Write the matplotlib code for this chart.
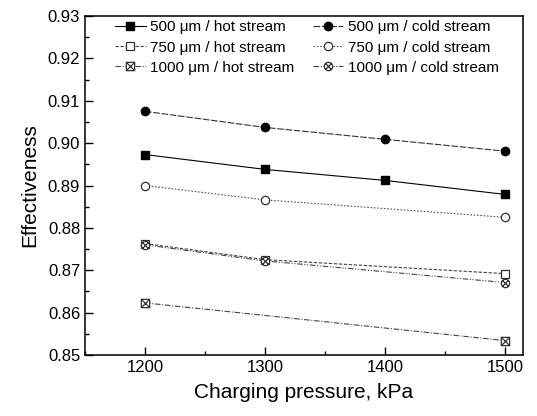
import matplotlib
matplotlib.use("Agg")
import matplotlib.pyplot as plt
from matplotlib.path import Path
from matplotlib.ticker import MultipleLocator, FormatStrFormatter

plt.rcParams['font.family'] = ['Liberation Sans', 'DejaVu Sans']

pressure_full = [1200, 1300, 1400, 1500]
pressure_part = [1200, 1300, 1500]
pressure_ends = [1200, 1500]

hot_500 = [0.8973, 0.8938, 0.8912, 0.8879]
cold_500 = [0.9075, 0.9037, 0.9009, 0.8981]
hot_750 = [0.8763, 0.8725, 0.8692]
cold_750 = [0.8900, 0.8866, 0.8825]
hot_1000 = [0.8623, 0.8534]
cold_1000 = [0.8760, 0.8722, 0.8671]

labels = ["500 \u03bcm / hot stream", "500 \u03bcm / cold stream",
          "750 \u03bcm / hot stream", "750 \u03bcm / cold stream",
          "1000 \u03bcm / hot stream", "1000 \u03bcm / cold stream"]

def boxx_marker():
    sq = Path([(-1, -1), (1, -1), (1, 1), (-1, 1), (-1, -1)],
              [Path.MOVETO, Path.LINETO, Path.LINETO, Path.LINETO, Path.CLOSEPOLY])
    d1 = Path([(-1, -1), (1, 1)], [Path.MOVETO, Path.LINETO])
    d2 = Path([(-1, 1), (1, -1)], [Path.MOVETO, Path.LINETO])
    return Path.make_compound_path(sq, d1, d2)

def circx_marker():
    c = Path.unit_circle()
    r = 0.7071
    d1 = Path([(-r, -r), (r, r)], [Path.MOVETO, Path.LINETO])
    d2 = Path([(-r, r), (r, -r)], [Path.MOVETO, Path.LINETO])
    return Path.make_compound_path(c, d1, d2)

fig = plt.figure(figsize=(5.37, 4.16), dpi=100)
ax = fig.add_axes([85/537, 1 - 355/416, (523-85)/537, (355-16)/416])

lw = 0.8
h1, = ax.plot(pressure_full, hot_500, color='black', lw=lw, ls='-', marker='s', ms=6,
              mfc='black', mec='black', label=labels[0])
h2, = ax.plot(pressure_full, cold_500, color='#333333', lw=lw, ls=(0, (6, 1.5)), marker='o', ms=6,
              mfc='black', mec='black', label=labels[1])
h3, = ax.plot(pressure_part, hot_750, color='#444444', lw=lw, ls=(0, (3, 1.5)), marker='s', ms=6,
              mfc='white', mec='#333333', mew=0.9, label=labels[2])
h4, = ax.plot(pressure_part, cold_750, color='#555555', lw=lw, ls=(0, (1.5, 1.5)), marker='o', ms=6,
              mfc='white', mec='#333333', mew=0.9, label=labels[3])
h5, = ax.plot(pressure_ends, hot_1000, color='#444444', lw=lw, ls=(0, (5, 1.5, 1, 1.5)), marker=boxx_marker(), ms=6,
              mfc='white', mec='#333333', mew=0.9, label=labels[4])
h6, = ax.plot(pressure_part, cold_1000, color='#444444', lw=lw, ls=(0, (5, 1.5, 1, 1.5, 1, 1.5)), marker=circx_marker(), ms=6,
              mfc='white', mec='#333333', mew=0.9, label=labels[5])

ax.set_xlim(1150, 1515)
ax.set_ylim(0.85, 0.93)
ax.xaxis.set_major_locator(MultipleLocator(100))
ax.xaxis.set_minor_locator(MultipleLocator(50))
ax.yaxis.set_major_locator(MultipleLocator(0.01))
ax.yaxis.set_minor_locator(MultipleLocator(0.005))
ax.yaxis.set_major_formatter(FormatStrFormatter('%.2f'))
ax.tick_params(which='both', direction='in', top=False, right=False, labelsize=12, width=1.0)
ax.tick_params(which='major', length=6)
ax.tick_params(which='minor', length=3)
for s in ax.spines.values():
    s.set_linewidth(1.1)

ax.set_xlabel("Charging pressure, kPa", fontsize=15, labelpad=6)
ax.set_ylabel("Effectiveness", fontsize=15, labelpad=6)

ax.legend(handles=[h1, h3, h5, h2, h4, h6], ncol=2, frameon=False, fontsize=11,
          loc='upper left', bbox_to_anchor=(0.055, 1.005), handlelength=2.0, handletextpad=0.3,
          columnspacing=1.2, labelspacing=0.4, borderaxespad=0.0)

fig.savefig("out.png", dpi=100)
